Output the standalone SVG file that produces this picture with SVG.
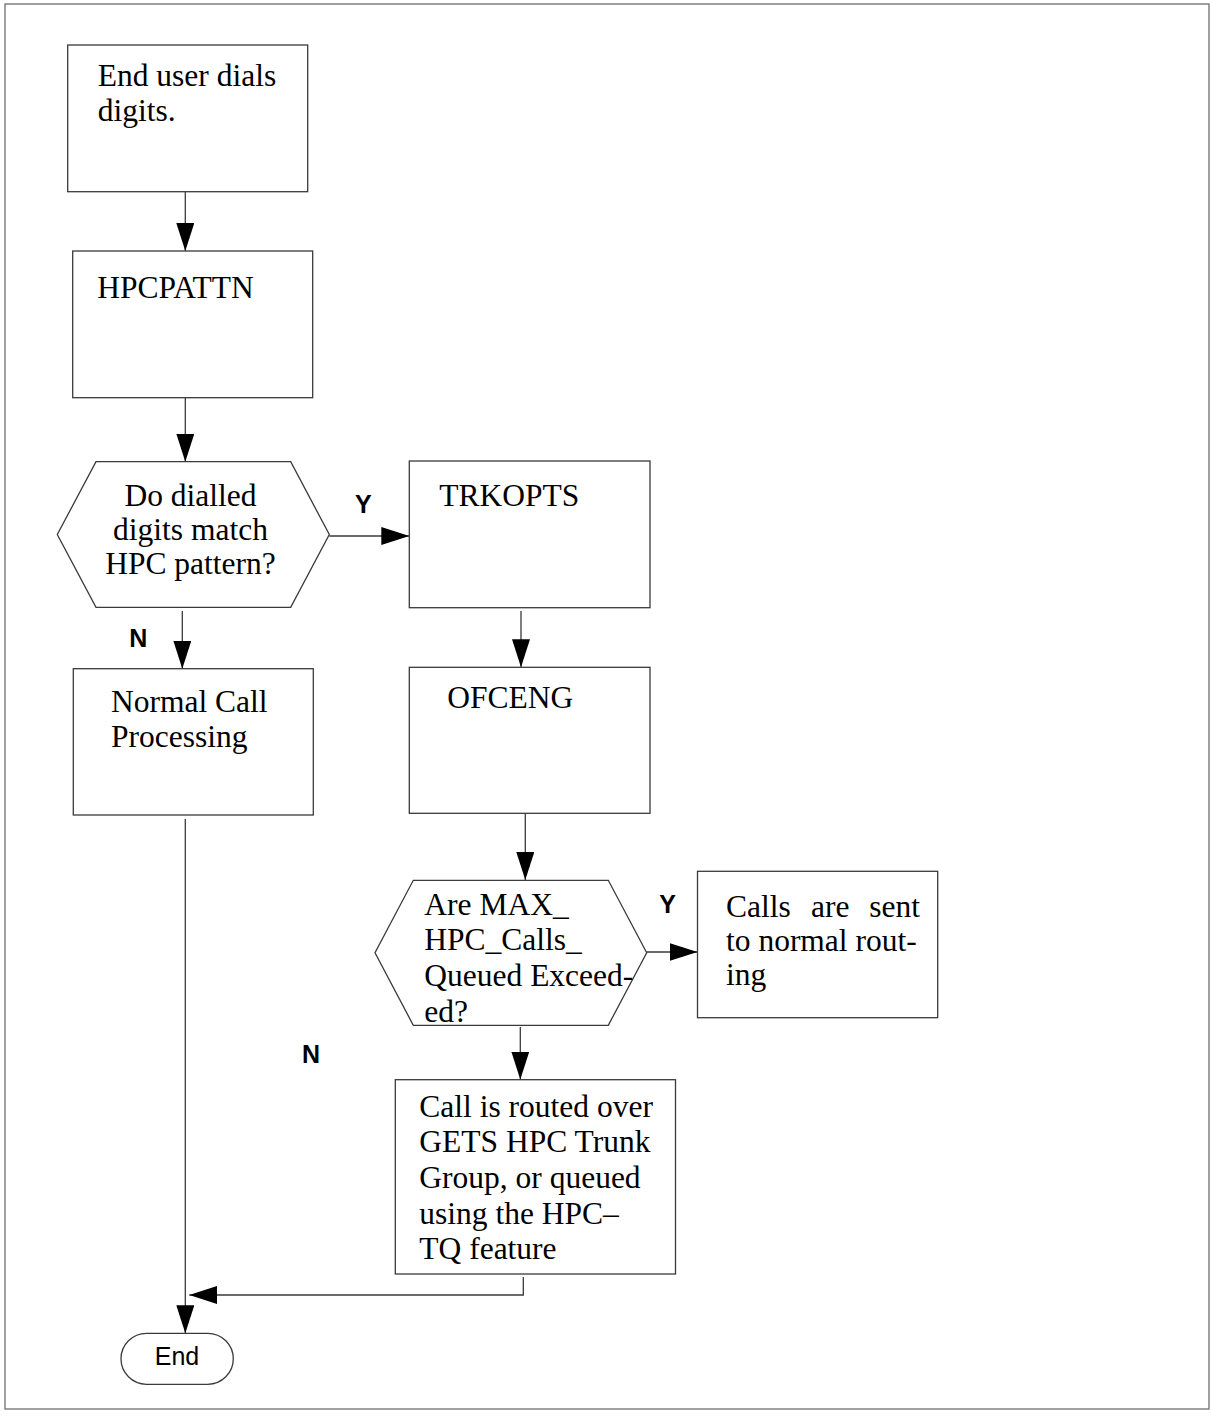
<svg xmlns="http://www.w3.org/2000/svg" width="1211" height="1416" viewBox="0 0 1211 1416">
<style>
.bg{fill:#ffffff}
.frame{fill:none;stroke:#6e6e6e;stroke-width:1.3}
.box{fill:#ffffff;stroke:#3a3a3a;stroke-width:1.3}
.conn{fill:none;stroke:#3a3a3a;stroke-width:1.3}
.t{font-family:"Liberation Serif","Times New Roman",serif;font-size:31.5px;fill:#000}
.lbl{font-family:"Liberation Sans",Arial,sans-serif;font-size:25px;font-weight:bold;fill:#000}
.end{font-family:"Liberation Sans",Arial,sans-serif;font-size:25px;fill:#000}
</style>
<defs>
<marker id="ah" markerUnits="userSpaceOnUse" markerWidth="29" markerHeight="18" refX="28" refY="9" orient="auto">
<path d="M0,0 L28,9 L0,18 z" fill="#000"/>
</marker>
</defs>
<rect class="bg" x="0" y="0" width="1211" height="1416"/>
<rect class="frame" x="5" y="4" width="1204" height="1405"/>

<g id="connectors">
<path class="conn" d="M185.3,192 V251" marker-end="url(#ah)"/>
<path class="conn" d="M185.3,398 V461.7" marker-end="url(#ah)"/>
<path class="conn" d="M329.3,536 H409.3" marker-end="url(#ah)"/>
<path class="conn" d="M182.3,611 V668.7" marker-end="url(#ah)"/>
<path class="conn" d="M521,611 V667.3" marker-end="url(#ah)"/>
<path class="conn" d="M525.3,813.3 V880" marker-end="url(#ah)"/>
<path class="conn" d="M646.7,952 H697.5" marker-end="url(#ah)"/>
<path class="conn" d="M520.3,1027 V1079.5" marker-end="url(#ah)"/>
<path class="conn" d="M185.3,819 V1333.3" marker-end="url(#ah)"/>
<path class="conn" d="M523.3,1277 V1295 H189.3" marker-end="url(#ah)"/>
<text class="lbl" x="355" y="512.7">Y</text>
<text class="lbl" x="129.3" y="647.3">N</text>
<text class="lbl" x="659.3" y="912.7">Y</text>
<text class="lbl" x="302" y="1063">N</text>
</g>

<g id="node-dials">
<rect class="box" x="67.7" y="45" width="240" height="146.7"/>
<text class="t" x="97.7" y="86.3">End user dials</text>
<text class="t" x="97.7" y="120.7">digits.</text>
</g>

<g id="node-hpcpattn">
<rect class="box" x="72.7" y="251" width="240" height="146.7"/>
<text class="t" x="97.3" y="297.7">HPCPATTN</text>
</g>

<g id="node-match">
<polygon class="box" points="96,461.7 290.7,461.7 329.3,534.5 290.7,607.3 96,607.3 57.3,534.5"/>
<text class="t" x="190.5" y="505.7" text-anchor="middle">Do dialled</text>
<text class="t" x="190.5" y="539.8" text-anchor="middle">digits match</text>
<text class="t" x="190.5" y="574.3" text-anchor="middle">HPC pattern?</text>
</g>

<g id="node-trkopts">
<rect class="box" x="409.3" y="461" width="240.7" height="146.7"/>
<text class="t" x="439.3" y="505.7">TRKOPTS</text>
</g>

<g id="node-normal">
<rect class="box" x="73.3" y="668.7" width="240" height="146.3"/>
<text class="t" x="111" y="712.3">Normal Call</text>
<text class="t" x="111" y="746.7">Processing</text>
</g>

<g id="node-ofceng">
<rect class="box" x="409.3" y="667.3" width="240.7" height="146"/>
<text class="t" x="447.3" y="708">OFCENG</text>
</g>

<g id="node-max">
<polygon class="box" points="413.3,880.3 608.3,880.3 646.7,952.7 608.3,1025.3 413.3,1025.3 375,952.7"/>
<text class="t" x="424.3" y="915">Are MAX_</text>
<text class="t" x="424.3" y="950">HPC_Calls_</text>
<text class="t" x="424.3" y="986.3">Queued Exceed-</text>
<text class="t" x="424.3" y="1021.5">ed?</text>
</g>

<g id="node-normal-routing">
<rect class="box" x="697.5" y="871.3" width="240.2" height="146.4"/>
<text class="t" x="726" y="916.7">Calls</text>
<text class="t" x="811" y="916.7">are</text>
<text class="t" x="920" y="916.7" text-anchor="end">sent</text>
<text class="t" x="726" y="950.5">to normal rout-</text>
<text class="t" x="726" y="985">ing</text>
</g>

<g id="node-routed">
<rect class="box" x="395.3" y="1079.7" width="280.2" height="194.3"/>
<text class="t" x="419.3" y="1116.7">Call is routed over</text>
<text class="t" x="419.3" y="1152">GETS HPC Trunk</text>
<text class="t" x="419.3" y="1188">Group, or queued</text>
<text class="t" x="419.3" y="1224">using the HPC–</text>
<text class="t" x="419.3" y="1259">TQ feature</text>
</g>

<g id="node-end">
<rect class="box" x="121" y="1333.3" width="112.3" height="51" rx="25.5" ry="25.5"/>
<text class="end" x="177" y="1365" text-anchor="middle">End</text>
</g>
</svg>
